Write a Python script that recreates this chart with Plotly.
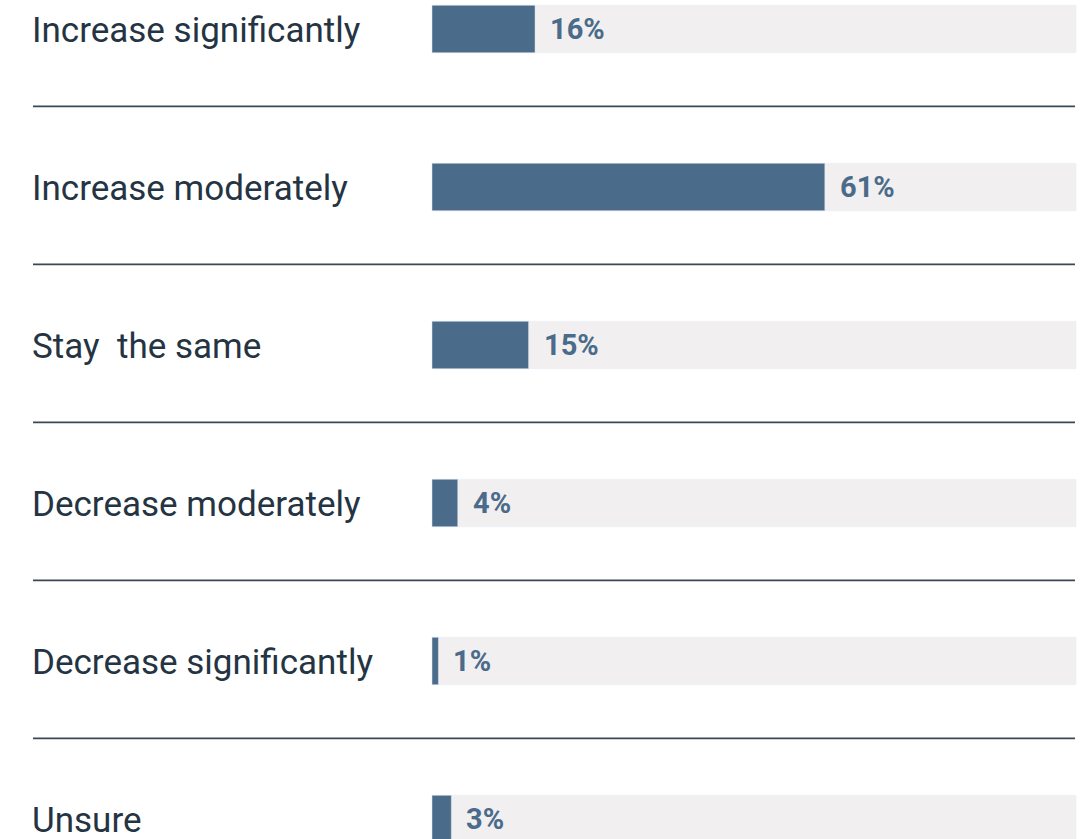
import plotly.graph_objects as go

categories = ["Increase significantly", "Increase moderately", "Stay  the same",
              "Decrease moderately", "Decrease significantly", "Unsure"]
values = [16, 61, 15, 4, 1, 3]
track = [100] * len(categories)

BAR = "#4a6b89"
TRACK = "#f1eff0"
TEXT = "#243443"

idx = list(range(len(categories)))

fig = go.Figure()
fig.add_trace(go.Bar(x=track, y=idx, orientation="h", marker_color=TRACK,
                     width=0.3, hoverinfo="skip", showlegend=False))
fig.add_trace(go.Bar(x=values, y=idx, orientation="h", marker_color=BAR,
                     width=0.3, showlegend=False))

for i, (c, v) in enumerate(zip(categories, values)):
    fig.add_annotation(x=0.0303, xref="paper", y=i, yref="y", text=c,
                       xanchor="left", yanchor="middle", showarrow=False,
                       xshift=-3, yshift=-1,
                       font=dict(family="Roboto", size=35, color=TEXT))
    fig.add_annotation(x=v, xref="x", y=i, yref="y", text=f"<b>{v}%</b>",
                       xanchor="left", yanchor="middle", showarrow=False,
                       xshift=13, font=dict(family="Roboto", size=29, color=BAR))

for i in range(len(categories) - 1):
    fig.add_shape(type="line", xref="paper", yref="y",
                  x0=33 / 1088, x1=1075 / 1088, y0=i + 0.49, y1=i + 0.49,
                  line=dict(color="#3a4755", width=1.6))

fig.update_layout(
    width=1088, height=839,
    margin=dict(l=0, r=0, t=0, b=0),
    paper_bgcolor="white", plot_bgcolor="white",
    barmode="overlay",
    xaxis=dict(range=[-432 / 6.44, (1088 - 432) / 6.44], visible=False, fixedrange=True),
    yaxis=dict(range=[-29 / 158 + 839 / 158, -29 / 158], visible=False, fixedrange=True),
)

fig.write_html("out.html")
